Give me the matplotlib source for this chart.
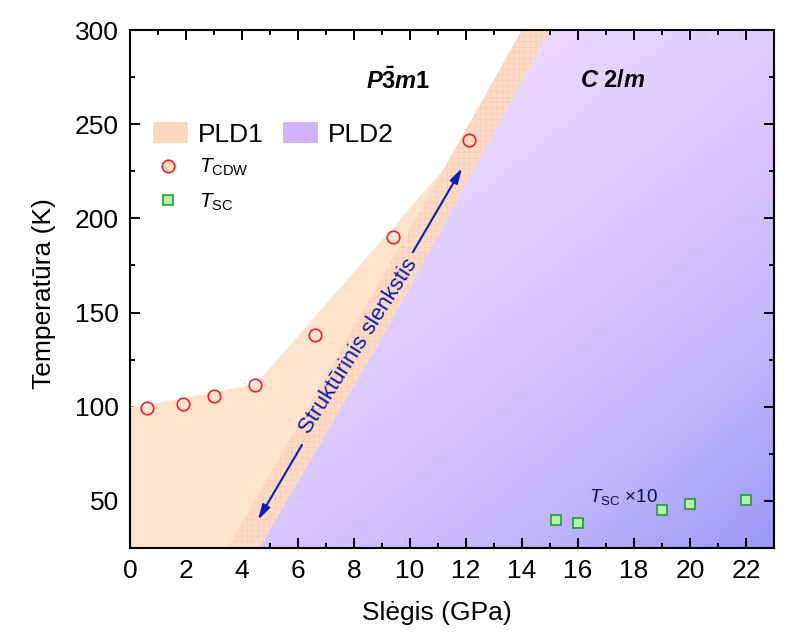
import numpy as np
import matplotlib
matplotlib.use('Agg')
import matplotlib.pyplot as plt
from matplotlib.patches import Polygon, Patch
from matplotlib.lines import Line2D
from matplotlib.colors import LinearSegmentedColormap
from matplotlib.ticker import MultipleLocator

plt.rcParams['font.family'] = ['Liberation Sans', 'DejaVu Sans']
plt.rcParams['mathtext.fontset'] = 'custom'
plt.rcParams['mathtext.rm'] = 'Liberation Sans'
plt.rcParams['mathtext.it'] = 'Liberation Sans:italic'
plt.rcParams['mathtext.bf'] = 'Liberation Sans:bold'
plt.rcParams['mathtext.bfit'] = 'Liberation Sans:italic:bold'
plt.rcParams['hatch.linewidth'] = 0.3

# data
p_cdw = [0.6, 1.9, 3.0, 4.46, 6.6, 9.4, 12.1]
t_cdw = [99.3, 101.5, 105.7, 111.5, 138, 190, 241.6]
p_sc = [15.2, 16, 19, 20, 22]
t_sc = [39.9, 38.3, 45.2, 48.4, 50.5]

# phase boundaries
pld1_p = [0, 1.0, 4.5, 11.2, 14.0]
pld1_t = [100, 102, 112, 226, 300]
band_left_p = [3.5, 11.2, 14.0]
band_left_t = [25, 226, 300]
band_right_p = [4.6, 9.0, 15.0]
band_right_t = [25, 137, 300]

xticks = np.arange(0, 23, 2)
yticks = [50, 100, 150, 200, 250, 300]

PEACH = '#fde2cd'
HATCH = '#f7c6b0'
BLUE = '#0a1fb4'

fig = plt.figure(figsize=(8, 6.41), dpi=100)
ax = fig.add_axes([130 / 800, 1 - 548 / 641, 644 / 800, 518 / 641])
ax.set_xlim(0, 23)
ax.set_ylim(25, 300)

# purple gradient, light at top left, blue at bottom right
cmap = LinearSegmentedColormap.from_list('pld2', [(0, '#f2e0ff'), (0.33, '#ebd7ff'), (0.6, '#d9c6ff'),
                                                  (0.8, '#c2b5fc'), (1, '#9a9af5')])
gx, gy = np.meshgrid(np.linspace(0, 1, 300), np.linspace(0, 1, 300))
grad = (gx + gy) / 2
im = ax.imshow(grad, extent=[0, 23, 25, 300], origin='upper', aspect='auto', cmap=cmap, vmin=0, vmax=1, zorder=1)
right_poly = Polygon(list(zip(band_right_p, band_right_t)) + [(23, 300), (23, 25)],
                     closed=True, transform=ax.transData, facecolor='none', edgecolor='none')
ax.add_patch(right_poly)
im.set_clip_path(right_poly)

# PLD1 area
area = list(zip(pld1_p, pld1_t)) + [(15.0, 300)] + list(zip(band_right_p[::-1], band_right_t[::-1])) + [(0, 25)]
ax.add_patch(Polygon(area, closed=True, facecolor=PEACH, edgecolor='none', zorder=2))

# hatched transition band
band = list(zip(band_left_p, band_left_t)) + list(zip(band_right_p[::-1], band_right_t[::-1]))
ax.add_patch(Polygon(band, closed=True, facecolor='#fbdac6', edgecolor=HATCH, hatch='+++', lw=0, zorder=3))

ax.plot(p_cdw, t_cdw, 'o', ms=9, mfc='none', mec='#e8232a', mew=1.2, zorder=5)
ax.plot(p_sc, t_sc, 's', ms=7.5, mfc='#b4f5a8', mec='#1f9a3a', mew=1.2, zorder=5)

# arrows along the boundary
head = '-|>,head_length=0.9,head_width=0.25'
ax.annotate('', xy=(11.86, 226.7), xytext=(10.1, 182), zorder=6,
            arrowprops=dict(arrowstyle=head, color=BLUE, lw=1.5, shrinkA=0, shrinkB=0))
ax.annotate('', xy=(4.57, 39.9), xytext=(6.14, 79.7), zorder=6,
            arrowprops=dict(arrowstyle=head, color=BLUE, lw=1.5, shrinkA=0, shrinkB=0))
ax.text(8.15, 132, 'Struktūrinis slenkstis', color=BLUE, fontsize=16, rotation=57.7,
        ha='center', va='center', rotation_mode='anchor', zorder=6)

ax.text(9.57, 273, r'$\mathbfit{P}\mathbf{\bar{3}}\mathbfit{m}\mathbf{1}$', fontsize=17, ha='center', va='center', zorder=6)
ax.text(17.23, 273, r'$\mathbfit{C}\ \mathbf{2/}\mathbfit{m}$', fontsize=17, ha='center', va='center', zorder=6)
ax.text(16.4, 52, r'$T_{\mathrm{SC}}$ ×10', fontsize=13.6, ha='left', va='center', color='#10103a', zorder=6)

ax.set_xlabel('Slėgis (GPa)', fontsize=19)
ax.set_ylabel('Temperatūra (K)', fontsize=19)
ax.xaxis.set_label_coords(0.477, -0.102)
ax.yaxis.set_label_coords(-0.115, 0.492)
ax.set_xticks(xticks)
ax.set_yticks(yticks)
ax.xaxis.set_minor_locator(MultipleLocator(1))
ax.yaxis.set_minor_locator(MultipleLocator(25))
ax.tick_params(which='both', direction='in', top=True, right=True, width=1.4, zorder=7)
ax.tick_params(which='major', length=7, labelsize=19, pad=8)
ax.tick_params(which='minor', length=3.5)
for s in ax.spines.values():
    s.set_linewidth(1.5)
    s.set_zorder(8)

# legend in two parts, filled areas on a row and markers below
leg1 = ax.legend(handles=[Patch(fc='#fbd8bd', label='PLD1'), Patch(fc='#d2b2ff', label='PLD2')],
                 loc='upper left', bbox_to_anchor=(0.0357, 0.822), ncols=2, frameon=False, fontsize=19,
                 handlelength=1.33, handleheight=0.83, handletextpad=0.38, columnspacing=0.72, borderpad=0, borderaxespad=0)
ax.add_artist(leg1)
ax.legend(handles=[Line2D([], [], ls='', marker='o', ms=9, mfc='#fcd8c0', mec='#e8232a', mew=1.2, label=r'$T_{\mathrm{CDW}}$'),
                   Line2D([], [], ls='', marker='s', ms=7.5, mfc='#b4f5a8', mec='#1f9a3a', mew=1.2, label=r'$T_{\mathrm{SC}}$')],
          loc='upper left', bbox_to_anchor=(0.0396, 0.755), frameon=False, fontsize=15,
          handlelength=1.2, handletextpad=0.87, labelspacing=0.65, borderpad=0, borderaxespad=0)

fig.savefig('out.png', dpi=100)
